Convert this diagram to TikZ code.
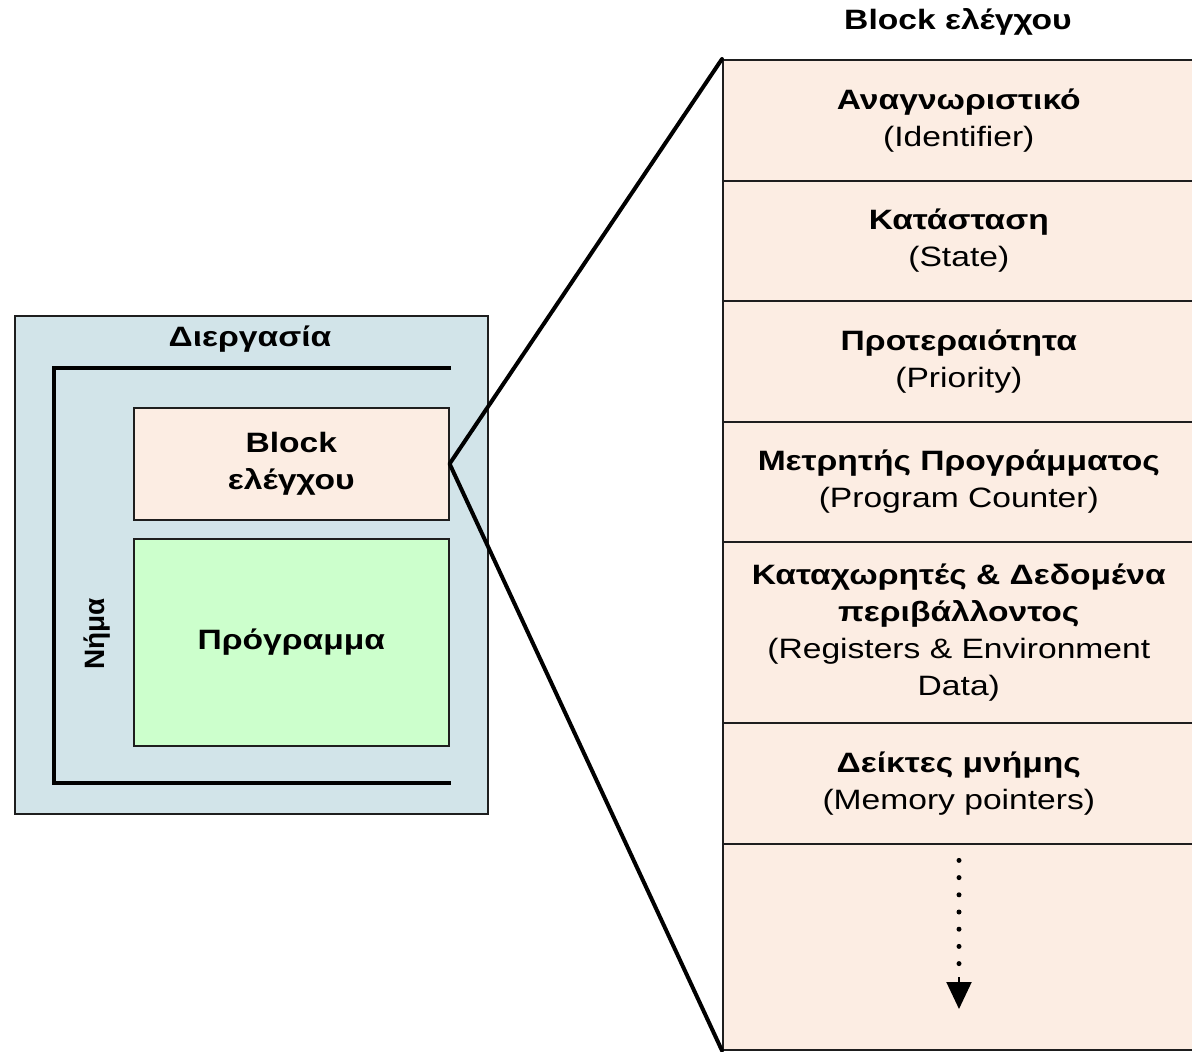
\documentclass[tikz,border=0pt]{standalone}
\usepackage{fontspec}
\setmainfont{Liberation Sans}[FakeStretch=1.2]
\newfontfamily\plainsans{Liberation Sans}
\usetikzlibrary{arrows.meta}
\definecolor{peach}{RGB}{252,237,227}
\definecolor{procblue}{RGB}{210,228,233}
\definecolor{proggreen}{RGB}{204,255,204}
\definecolor{edge}{RGB}{30,30,30}
\tikzset{
  txt/.style={font=\fontsize{28}{37}\selectfont, align=center, inner sep=0pt},
  cell/.style={draw=edge, line width=1.6pt, fill=peach, anchor=north west,
    minimum width=472pt, inner sep=0pt, font=\fontsize{28}{37}\selectfont, align=center},
  box/.style={draw=edge, line width=1.6pt, anchor=north west, inner sep=0pt,
    font=\fontsize{28}{37}\selectfont\bfseries, align=center},
  thick line/.style={line width=4pt, black},
}
\begin{document}
\begin{tikzpicture}[x=1pt,y=-1pt]
\useasboundingbox (0,0) rectangle (1192,1052);
\fill[white] (0,0) rectangle (1192,1052);

% process with its thread
\node[box, fill=procblue, minimum width=473pt, minimum height=498pt] (proc) at (14,315) {};
\node[txt, font=\fontsize{28}{37}\selectfont\bfseries] (proctitle) at (250,339) {Διεργασία};
\coordinate (thrTop) at (451,368);
\coordinate (thrBot) at (451,783);
\draw[thick line] (thrTop) -- (54,368) -- (54,783) -- (thrBot);
\node[txt, rotate=90, font=\plainsans\fontsize{28}{37}\selectfont\bfseries] (thread) at (97,634)
  {Νήμα};

\node[box, fill=peach, minimum width=315pt, minimum height=112pt] (blk) at (133,407)
  {Block\\ελέγχου};
\node[box, fill=proggreen, minimum width=315pt, minimum height=207pt] (prog) at (133,538)
  {Πρόγραμμα};

% control block contents
\node[txt, font=\fontsize{28}{37}\selectfont\bfseries] (title) at (958,22) {Block ελέγχου};

\node[cell, minimum height=121pt] (c1) at (722,59)
  {\textbf{Αναγνωριστικό}\\(Identifier)};
\node[cell, minimum height=120pt] (c2) at (722,180)
  {\textbf{Κατάσταση}\\(State)};
\node[cell, minimum height=121pt] (c3) at (722,300)
  {\textbf{Προτεραιότητα}\\(Priority)};
\node[cell, minimum height=120pt] (c4) at (722,421)
  {\textbf{Μετρητής Προγράμματος}\\(Program Counter)};
\node[cell, minimum height=181pt] (c5) at (722,541)
  {\textbf{Καταχωρητές \& Δεδομένα}\\\textbf{περιβάλλοντος}\\(Registers \& Environment\\Data)};
\node[cell, minimum height=121pt] (c6) at (722,722)
  {\textbf{Δείκτες μνήμης}\\(Memory pointers)};
\node[cell, minimum height=206pt] (c7) at (722,843) {};

% continuation arrow
\coordinate (more) at (959,1009);
\draw[line width=5pt, dash pattern=on 0pt off 17.2pt, line cap=round]
  (c7.north -| more) ++(0,17.4) -- ++(0,104);
\draw[line width=2pt, -{Triangle[length=27pt,width=25pt]}] (959,977) -- (more);

% zoom lines
\draw[thick line, line cap=round, line join=round] (c1.north west) -- (blk.east) -- (c7.south west);
\end{tikzpicture}
\end{document}
